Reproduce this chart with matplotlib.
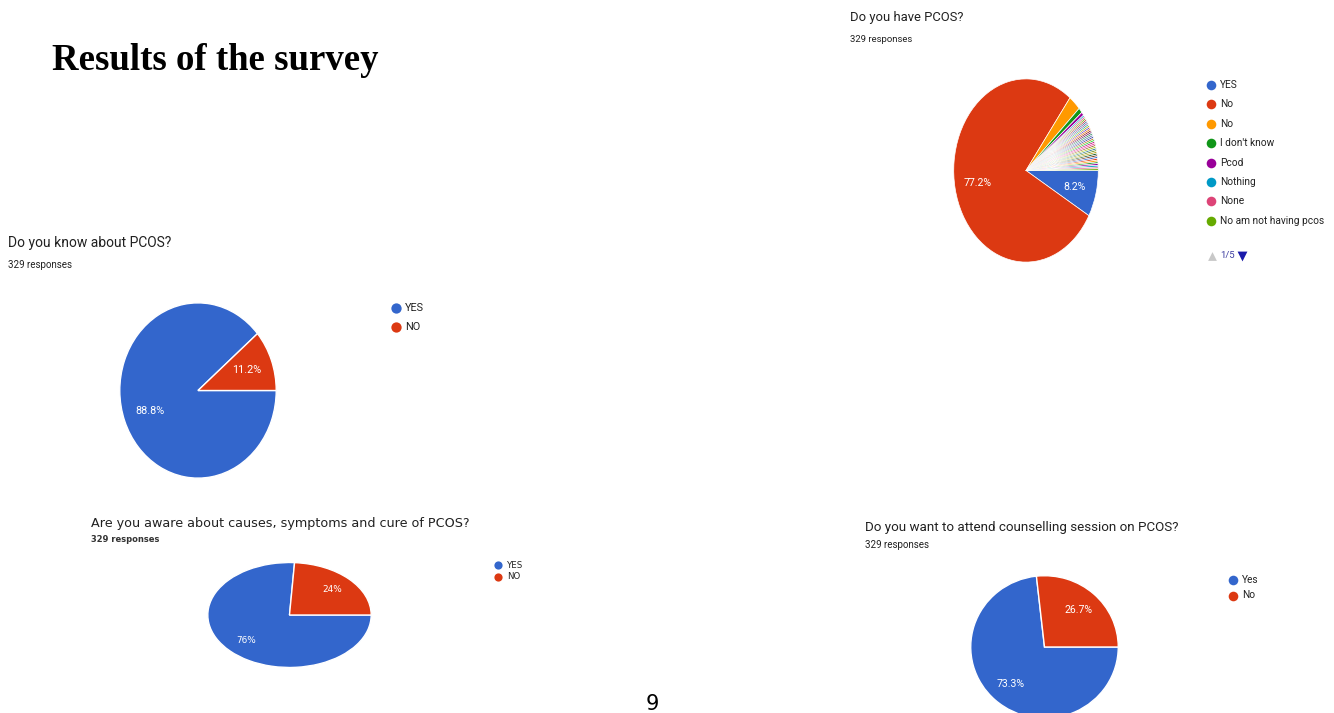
import matplotlib.pyplot as plt

W, H = 1334, 713

# Google Forms chart palette
COLORS = ['#3366cc', '#dc3912', '#ff9900', '#109618', '#990099', '#0099c6',
          '#dd4477', '#66aa00', '#b82e2e', '#316395', '#994499', '#22aa99',
          '#aaaa11', '#6633cc', '#e67300', '#8b0707', '#651067', '#329262',
          '#5574a6', '#3b3eac', '#b77322', '#16d620', '#b91383', '#f4359e',
          '#9c5935', '#a9c413', '#2a778d', '#668d1c', '#bea413', '#0c5922',
          '#743411']

# Do you have PCOS? (legend page 1/5 visible, the rest are single answers)
have_labels = ['YES', 'No', 'No', "I don't know", 'Pcod', 'Nothing', 'None',
               'No am not having pcos']
have_counts = [27, 254, 9, 3, 2, 1, 1, 1]
have_other_counts = [1, 1, 1, 1, 1, 1, 1, 1, 1, 1, 1, 1, 1, 1, 1, 1,
                     1, 1, 1, 1, 1, 1, 1, 1, 1, 1, 1, 1, 1, 1, 1]

# Do you know about PCOS?
know_labels = ['YES', 'NO']
know_counts = [292, 37]

# Are you aware about causes, symptoms and cure of PCOS?
aware_labels = ['YES', 'NO']
aware_counts = [250, 79]

# Do you want to attend counselling session on PCOS?
attend_labels = ['Yes', 'No']
attend_counts = [241, 88]


def pct_text(pct):
    """Google style percentage, hidden for small slices."""
    if pct < 5:
        return ''
    s = f'{pct:.1f}'
    if s.endswith('.0'):
        s = s[:-2]
    return s + '%'


def draw_pie(fig, counts, box, fontsize, pctdist=0.67, edge=1.0, family='Roboto'):
    """Draws an (elliptical) pie inside a pixel box (left, top, width, height)."""
    left, top, w, h = box
    ax = fig.add_axes([left / W, 1 - (top + h) / H, w / W, h / H])
    colors = [COLORS[i % len(COLORS)] for i in range(len(counts))]
    wedges, _, autotexts = ax.pie(counts, colors=colors, startangle=0,
                                  counterclock=False, autopct=pct_text,
                                  pctdistance=pctdist,
                                  wedgeprops=dict(edgecolor='white', linewidth=edge))
    for t in autotexts:
        t.set_color('white')
        t.set_fontsize(fontsize)
        t.set_family(family)
    ax.set_aspect('auto')
    ax.set_xlim(-1.01, 1.01)
    ax.set_ylim(-1.01, 1.01)
    ax.axis('off')
    return ax


def draw_legend(ax, labels, x, y, step, fontsize, msize=50, family='Roboto'):
    """Draws Google style legend (dot + label) in overlay pixel coordinates."""
    for i, lab in enumerate(labels):
        yy = y + i * step
        ax.scatter([x], [yy], s=msize, color=COLORS[i], marker='o', zorder=3,
                   linewidths=0)
        ax.text(x + 9, yy, lab, fontsize=fontsize, family=family,
                color='#222222', va='center', ha='left')


fig = plt.figure(figsize=(W / 100, H / 100), dpi=100)
over = fig.add_axes([0, 0, 1, 1])
over.set_xlim(0, W)
over.set_ylim(H, 0)
over.axis('off')

over.text(52, 60, 'Results of the survey', fontsize=26.5, fontweight='bold',
          family='Liberation Serif', va='center', ha='left', color='black')
over.text(652, 704, '9', fontsize=15, family='DejaVu Sans', va='center',
          ha='center', color='black')

# --- Do you have PCOS? ---
over.text(850, 17, 'Do you have PCOS?', fontsize=9.4, family='Roboto',
          color='#212121', va='center')
over.text(850, 40, '329 responses', fontsize=6.8, family='Roboto',
          color='#212121', va='center')
draw_pie(fig, have_counts + have_other_counts, (953, 78, 146, 185), 7.6,
         pctdist=0.69, edge=0.5)
draw_legend(over, have_labels, 1211, 85, 19.4, 7.3, msize=48)
over.scatter([1212], [256], s=40, marker='^', color='#c8c8c8', linewidths=0)
over.text(1220, 256, '1/5', fontsize=6.8, family='Roboto', color='#3c3ca0', va='center')
over.scatter([1242], [256], s=50, marker='v', color='#1a1aaa', linewidths=0)

# --- Do you know about PCOS? ---
over.text(8, 243, 'Do you know about PCOS?', fontsize=10, family='Roboto',
          color='#212121', va='center')
over.text(8, 265, '329 responses', fontsize=7, family='Roboto',
          color='#212121', va='center')
draw_pie(fig, know_counts, (119, 302, 158, 177), 7.8, pctdist=0.66)
draw_legend(over, know_labels, 396, 308, 18.5, 7.8, msize=55)

# --- Are you aware about causes, symptoms and cure of PCOS? ---
over.text(91, 524, 'Are you aware about causes, symptoms and cure of PCOS?',
          fontsize=9.2, family='DejaVu Sans', color='#212121', va='center')
over.text(91, 539, '329 responses', fontsize=6, family='DejaVu Sans',
          fontweight='bold', color='#333333', va='center')
draw_pie(fig, aware_counts, (207, 562, 165, 106), 6.4, pctdist=0.72,
         family='DejaVu Sans')
draw_legend(over, aware_labels, 498, 565, 11.5, 6.2, msize=35, family='DejaVu Sans')

# --- Do you want to attend counselling session on PCOS? ---
over.text(865, 528, 'Do you want to attend counselling session on PCOS?',
          fontsize=9.6, family='Roboto', color='#212121', va='center')
over.text(865, 545, '329 responses', fontsize=7, family='Roboto',
          color='#212121', va='center')
draw_pie(fig, attend_counts, (970, 575, 149, 144), 7.6, pctdist=0.69)
draw_legend(over, attend_labels, 1233, 580, 15.5, 7.3, msize=48)

fig.savefig('out.png', dpi=100)
